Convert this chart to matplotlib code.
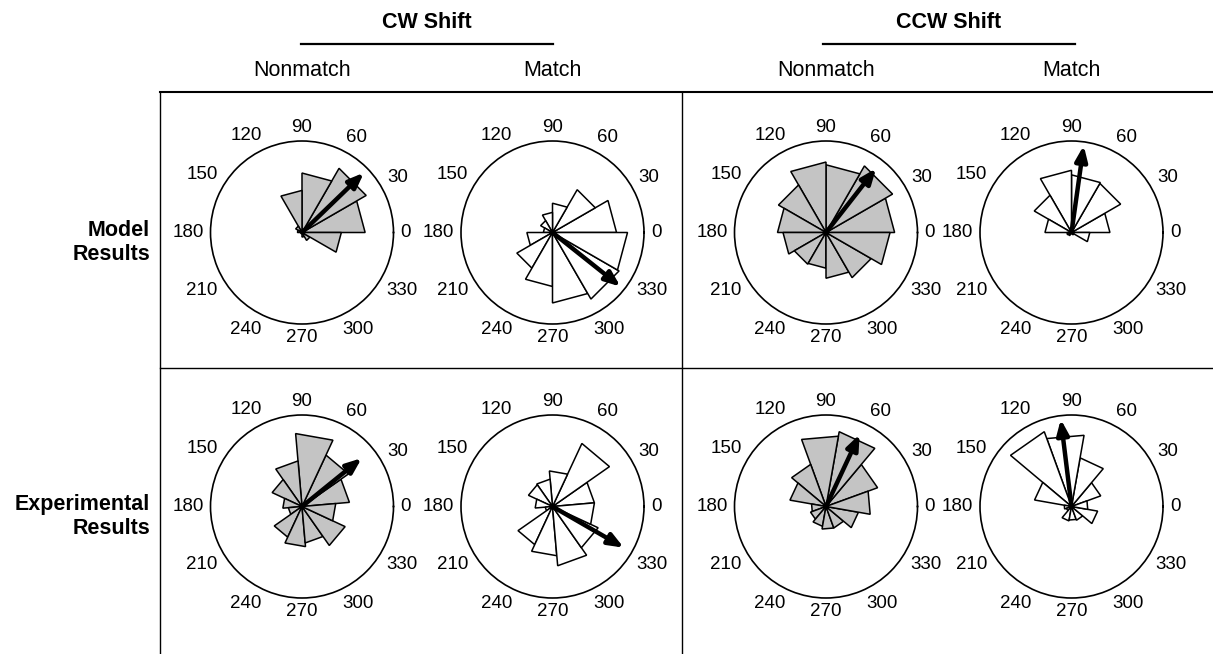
import numpy as np
import matplotlib
matplotlib.use("Agg")
import matplotlib.pyplot as plt
from matplotlib.lines import Line2D

plt.rcParams['font.family'] = ['Liberation Sans', 'DejaVu Sans']

# ---------------- data ----------------
shift_titles = ['CW Shift', 'CCW Shift']
condition_labels = ['Nonmatch', 'Match', 'Nonmatch', 'Match']
row_labels = ['Model\nResults', 'Experimental\nResults']
angle_ticks = [0, 30, 60, 90, 120, 150, 180, 210, 240, 270, 300, 330]
bin_width = 30  # degrees

# rose bins: first bin start angle (deg) and 12 relative bin lengths (1 = outer circle)
model_cw_nonmatch_start = 0
model_cw_nonmatch = [0.69, 0.81, 0.65, 0.46, 0.08, 0.05, 0.0, 0.0, 0.0, 0.05, 0.10, 0.43]
model_cw_match_start = 0
model_cw_match = [0.70, 0.54, 0.32, 0.22, 0.15, 0.10, 0.28, 0.45, 0.59, 0.77, 0.84, 0.82]
model_ccw_nonmatch_start = 0
model_ccw_nonmatch = [0.75, 0.84, 0.74, 0.77, 0.60, 0.53, 0.47, 0.40, 0.39, 0.50, 0.57, 0.70]
model_ccw_match_start = 0
model_ccw_match = [0.42, 0.62, 0.63, 0.68, 0.47, 0.29, 0.05, 0.04, 0.0, 0.0, 0.03, 0.20]

exp_cw_nonmatch_start = 5
exp_cw_nonmatch = [0.52, 0.62, 0.80, 0.50, 0.36, 0.21, 0.15, 0.37, 0.44, 0.40, 0.52, 0.37]
exp_cw_match_start = 5
exp_cw_match = [0.46, 0.76, 0.39, 0.30, 0.29, 0.19, 0.08, 0.46, 0.54, 0.65, 0.55, 0.46]
exp_ccw_nonmatch_start = 20
exp_ccw_nonmatch = [0.60, 0.83, 0.78, 0.49, 0.40, 0.16, 0.18, 0.22, 0.25, 0.25, 0.36, 0.49]
exp_ccw_match_start = 20
exp_ccw_match = [0.34, 0.54, 0.79, 0.87, 0.41, 0.08, 0.06, 0.16, 0.15, 0.16, 0.29, 0.18]

# mean-direction arrows: angle (deg), relative length
model_arrow_angles = [44, 321.5, 52, 82]
model_arrow_lengths = [0.94, 0.95, 0.89, 0.96]
exp_arrow_angles = [39, 330, 65, 97]
exp_arrow_lengths = [0.84, 0.90, 0.87, 0.96]

# fill colour per condition (Nonmatch grey, Match white)
condition_fill = ['#c4c4c4', 'white', '#c4c4c4', 'white']

# ---------------- layout ----------------
W, H, DPI = 1213, 654, 100
fig = plt.figure(figsize=(W / DPI, H / DPI), dpi=DPI)
fig.patch.set_facecolor('white')

col_x = [302, 552.5, 826, 1071.5]
row_y = [232.5, 506.5]
R = 91.5  # circle radius in px

def fx(x):
    return x / W

def fy(y):
    return 1 - y / H

def fig_line(x0, y0, x1, y1, lw=1.0):
    fig.add_artist(Line2D([fx(x0), fx(x1)], [fy(y0), fy(y1)],
                          transform=fig.transFigure, color='black', lw=lw))

label_fs = 13.5
char_w = 0.556 * label_fs * DPI / 72  # px per digit
half_h = 0.36 * label_fs * DPI / 72

rows = [
    [(model_cw_nonmatch_start, model_cw_nonmatch), (model_cw_match_start, model_cw_match),
     (model_ccw_nonmatch_start, model_ccw_nonmatch), (model_ccw_match_start, model_ccw_match)],
    [(exp_cw_nonmatch_start, exp_cw_nonmatch), (exp_cw_match_start, exp_cw_match),
     (exp_ccw_nonmatch_start, exp_ccw_nonmatch), (exp_ccw_match_start, exp_ccw_match)],
]
arrows = [(model_arrow_angles, model_arrow_lengths), (exp_arrow_angles, exp_arrow_lengths)]

for ri, row in enumerate(rows):
    for ci, (start, vals) in enumerate(row):
        cx, cy = col_x[ci], row_y[ri]
        ax = fig.add_axes([fx(cx - R), fy(cy + R), 2 * R / W, 2 * R / H], projection='polar')
        ax.set_ylim(0, 1)
        ax.set_yticks([])
        ax.set_xticks([])
        ax.grid(False)
        ax.spines['polar'].set_linewidth(1.2)
        ax.set_facecolor('white')
        for i, v in enumerate(vals):
            if v <= 0:
                continue
            a0 = start + i * bin_width
            th = np.radians([a0, a0, a0 + bin_width])
            ax.fill(th, [0, v, v], facecolor=condition_fill[ci], edgecolor='black',
                    lw=1.1, zorder=2)
        ang, ln = arrows[ri][0][ci], arrows[ri][1][ci]
        ax.annotate('', xy=(np.radians(ang), ln), xytext=(0, 0),
                    arrowprops=dict(arrowstyle='-|>,head_length=0.75,head_width=0.3',
                                    color='black', lw=3.2, mutation_scale=12,
                                    shrinkA=0, shrinkB=0),
                    zorder=5, annotation_clip=False)
        for a in angle_ticks:
            t = np.radians(a)
            s = str(a)
            ext = (len(s) * char_w / 2) * abs(np.cos(t)) + half_h * abs(np.sin(t))
            rl = 1 + (7 + ext) / R
            ax.text(t, rl, s, ha='center', va='center', fontsize=label_fs, clip_on=False)

# headers
for k, title in enumerate(shift_titles):
    cxm = (col_x[2 * k] + col_x[2 * k + 1]) / 2
    fig.text(fx(cxm), fy(22), title, ha='center', va='center', fontsize=15.5, fontweight='bold')
    fig_line(cxm - 126, 44, cxm + 126, 44, lw=1.6)
for ci, lab in enumerate(condition_labels):
    fig.text(fx(col_x[ci]), fy(70), lab, ha='center', va='center', fontsize=15.5)

for ri, lab in enumerate(row_labels):
    fig.text(fx(150), fy(row_y[ri] + 10), lab, ha='right', va='center', fontsize=15.5,
             fontweight='bold', linespacing=1.15)

# frame lines
fig_line(160, 91.5, W, 91.5, lw=1.5)
fig_line(160, 91.5, 160, H, lw=1.0)
fig_line(682, 91.5, 682, H, lw=1.0)
fig_line(160, 368, W, 368, lw=1.0)

fig.savefig('out.png', dpi=DPI, facecolor='white')
